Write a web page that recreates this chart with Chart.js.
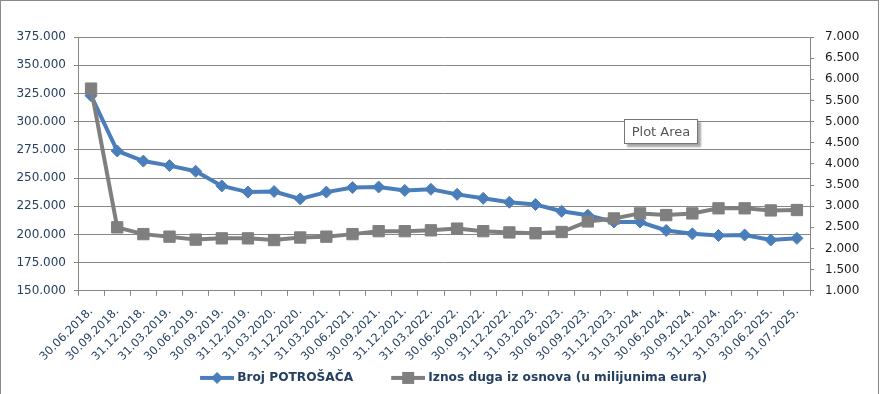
<!DOCTYPE html>
<html>
<head>
<meta charset="utf-8">
<script src="https://cdn.jsdelivr.net/npm/chart.js@4.4.1/dist/chart.umd.min.js"></script>
<style>
html, body { margin: 0; padding: 0; background: #fff; }
#wrap { position: relative; width: 881px; height: 394px; overflow: hidden; }
#frame { position: absolute; left: 0; top: 0; width: 877px; height: 400px; border: 1px solid #8a8a8a; border-bottom: none; pointer-events: none; }
#tip { position: absolute; left: 624px; top: 119px; width: 72px; height: 23px; border: 1px solid #767676; background: #fff;
       box-shadow: 3px 3px 2px rgba(0,0,0,0.35); font: 13px 'DejaVu Sans', sans-serif; color: #575757; line-height: 23px; text-align: center; }
</style>
</head>
<body>
<div id="wrap">
  <canvas id="chart" width="881" height="394"></canvas>
  <div id="frame"></div>
  <div id="tip">Plot Area</div>
</div>
<script>
// data
const categories = ['30.06.2018.', '30.09.2018.', '31.12.2018.', '31.03.2019.', '30.06.2019.', '30.09.2019.', '31.12.2019.',
    '31.03.2020.', '31.12.2020.', '31.03.2021.', '30.06.2021.', '30.09.2021.', '31.12.2021.', '31.03.2022.', '30.06.2022.',
    '30.09.2022.', '31.12.2022.', '31.03.2023.', '30.06.2023.', '30.09.2023.', '31.12.2023.', '31.03.2024.', '30.06.2024.',
    '30.09.2024.', '31.12.2024.', '31.03.2025.', '30.06.2025.', '31.07.2025.'];
const brojPotrosaca = [323000, 274000, 265000, 261000, 256000, 243000, 237500, 238000, 231500, 237500, 241500, 242000, 239000, 240000,
    235500, 232000, 228500, 226500, 220500, 217000, 211000, 211000, 203500, 200500, 199000, 199500, 195000, 196500];
const iznosDuga = [5.78, 2.50, 2.34, 2.28, 2.21, 2.24, 2.24, 2.20, 2.26, 2.28, 2.34, 2.41, 2.41, 2.43,
    2.47, 2.41, 2.38, 2.36, 2.39, 2.64, 2.71, 2.83, 2.79, 2.83, 2.95, 2.95, 2.90, 2.91];
const seriesNames = ['Broj POTROŠAČA', 'Iznos duga iz osnova (u milijunima eura)'];

const colors = {
    blue: '#4A7EBB',
    gray: '#7F7F7F',
    navy: '#243F60',
    grid: '#878787'
};

Chart.defaults.font.family = "'DejaVu Sans', sans-serif";

// legend markers: line with marker in the middle; empty left part works as extra spacing,
// image is 3px wider than the legend box on each side so the line sits closer to the text
const markerGap = 26;
const markerBox = markerGap + 31;
function legendMarker(color, shape) {
    const c = document.createElement('canvas');
    c.width = markerBox + 6; c.height = 14;
    const g = c.getContext('2d');
    const x0 = 3 + markerGap;
    const cx = x0 + 17;
    g.strokeStyle = color; g.fillStyle = color; g.lineWidth = 4;
    g.beginPath(); g.moveTo(x0, 7); g.lineTo(x0 + 34, 7); g.stroke();
    if (shape === 'diamond') {
        g.beginPath(); g.moveTo(cx, 1); g.lineTo(cx + 6, 7); g.lineTo(cx, 13); g.lineTo(cx - 6, 7); g.closePath(); g.fill();
    } else {
        g.fillRect(cx - 6, 1, 12, 12);
    }
    return c;
}
const markers = [legendMarker(colors.blue, 'diamond'), legendMarker(colors.gray, 'square')];

const thousands = v => String(v).replace(/\B(?=(\d{3})+(?!\d))/g, '.');

const ctx = document.getElementById('chart').getContext('2d');
new Chart(ctx, {
    type: 'line',
    data: {
        labels: categories,
        datasets: [
            {
                label: seriesNames[0],
                data: brojPotrosaca,
                yAxisID: 'y',
                borderColor: colors.blue,
                backgroundColor: colors.blue,
                borderWidth: 4,
                pointStyle: 'rectRot',
                pointRadius: 6,
                pointBorderWidth: 1,
                order: 1
            },
            {
                label: seriesNames[1],
                data: iznosDuga,
                yAxisID: 'y2',
                borderColor: colors.gray,
                backgroundColor: colors.gray,
                borderWidth: 4,
                pointStyle: 'rect',
                pointRadius: 8,
                pointBorderWidth: 1,
                order: 0
            }
        ]
    },
    options: {
        responsive: false,
        animation: false,
        layout: { padding: { top: 37 } },
        plugins: {
            tooltip: { enabled: false },
            legend: {
                position: 'bottom',
                labels: {
                    usePointStyle: true,
                    pointStyleWidth: markerBox,
                    boxHeight: 12,
                    padding: 12,
                    color: colors.navy,
                    font: { size: 12.2, weight: 'bold' },
                    sort: (a, b) => a.datasetIndex - b.datasetIndex,
                    generateLabels: chart => Chart.defaults.plugins.legend.labels.generateLabels(chart)
                        .map(l => Object.assign(l, { pointStyle: markers[l.datasetIndex] }))
                }
            }
        },
        scales: {
            x: {
                offset: true,
                grid: { offset: true, drawOnChartArea: false, tickLength: 5, color: colors.grid },
                border: { color: colors.grid },
                ticks: { color: colors.navy, font: { size: 11.5 }, minRotation: 45, maxRotation: 45, autoSkip: false, padding: 9 },
                afterFit: s => { s.height = 69; }
            },
            y: {
                position: 'left',
                min: 150000,
                max: 375000,
                ticks: { stepSize: 25000, color: colors.navy, font: { size: 12 }, padding: 8, callback: v => thousands(v) },
                grid: { color: colors.grid, tickLength: 4 },
                border: { color: colors.grid },
                afterFit: s => { s.width = 78; }
            },
            y2: {
                position: 'right',
                min: 1,
                max: 7,
                ticks: { stepSize: 0.5, color: '#1a1a1a', font: { size: 12 }, padding: 11, callback: v => v.toFixed(3) },
                grid: { drawOnChartArea: false, tickLength: 4, color: colors.grid },
                border: { color: colors.grid },
                afterFit: s => { s.width = 71; }
            }
        }
    }
});
</script>
</body>
</html>
